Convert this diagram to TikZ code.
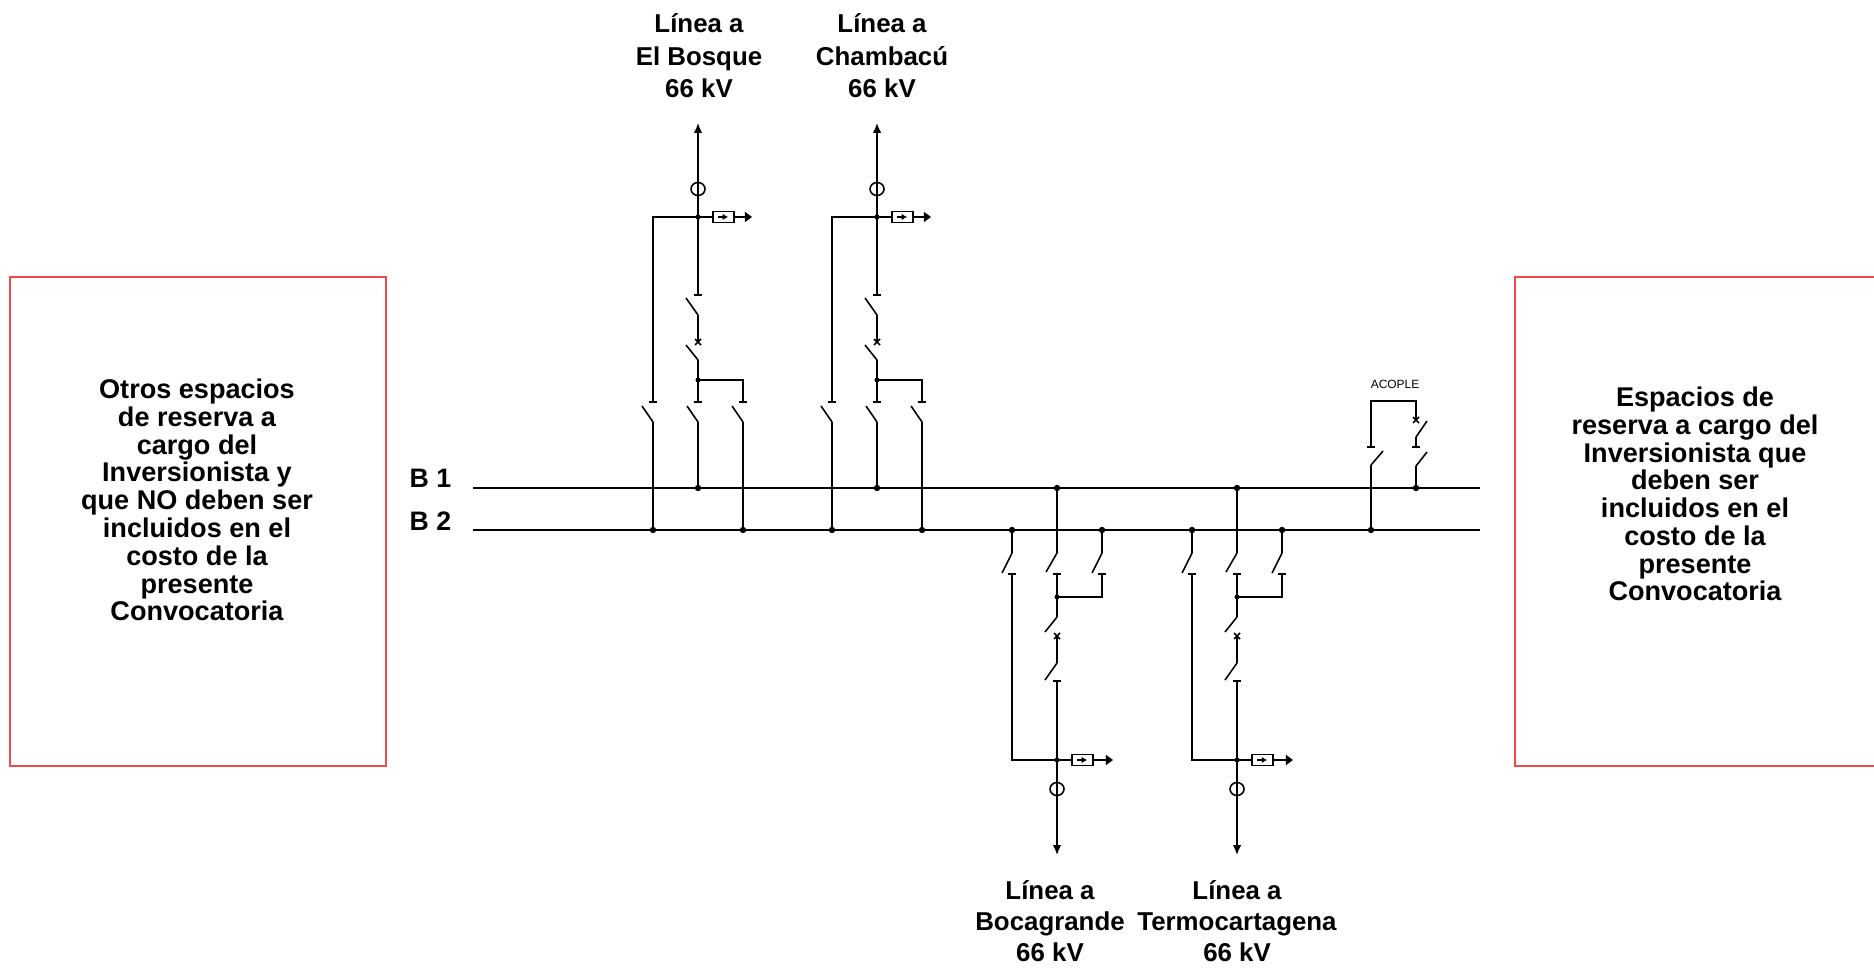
\documentclass[tikz,border=0pt]{standalone}
\usepackage{fontspec}
\setmainfont{Liberation Sans}
\usetikzlibrary{arrows.meta}

\definecolor{reservered}{RGB}{228,78,78}

\tikzset{
  wire/.style={line width=0.45pt},
  busbar/.style={line width=0.8pt},
  reserve/.style={draw=reservered, line width=0.5pt},
  boxtext/.style={align=center, font=\bfseries\fontsize{7.7}{7.9}\selectfont, inner sep=0pt},
  linelbl/.style={align=center, font=\bfseries\fontsize{7.35}{9.2}\selectfont, inner sep=0pt},
  lowlbl/.style={linelbl, font=\bfseries\fontsize{7.35}{8.8}\selectfont},
  buslbl/.style={font=\bfseries\fontsize{7.6}{9}\selectfont, inner sep=0pt},
  tinylbl/.style={font=\fontsize{3.4}{4}\selectfont, inner sep=0pt},
  linetip/.style={-{Latex[length=2.8pt,width=2.4pt]}},
  feedtip/.style={-{Triangle[length=2pt,width=2.8pt]}},
  vtarrow/.style={line width=0.8pt,-{Latex[length=1.5pt,width=1.8pt]}},
}

% fixed contact of a disconnector and the cross of a breaker
\newcommand{\fixedcontact}[1]{\draw[wire] (#1) ++(-4,0) -- ++(8,0);}
\newcommand{\breakmark}[1]{\draw[wire] (#1) ++(-3,-3) -- ++(6,6) ++(-6,0) -- ++(6,-6);}

\begin{document}
\begin{tikzpicture}[x=0.01cm,y=-0.01cm]
\useasboundingbox (0,0) rectangle (1874,968);

% Bus levels and bay spacing
\def\yba{488}
\def\ybb{530}
\def\bayoff{45}

% Reserve spaces
\draw[reserve] (10,277) rectangle (386,766);
\draw[reserve] (1515,277) rectangle (1880,766);
\node[boxtext] (resleft) at (197,500) {Otros espacios\\de reserva a\\cargo del\\Inversionista y\\que NO deben ser\\incluidos en el\\costo de la\\presente\\Convocatoria};
\node[boxtext] (resright) at (1695,494) {Espacios de\\reserva a cargo del\\Inversionista que\\deben ser\\incluidos en el\\costo de la\\presente\\Convocatoria};

% Bus bars
\coordinate (b1-w) at (473,\yba);
\coordinate (b1-e) at (1480,\yba);
\coordinate (b2-w) at (473,\ybb);
\coordinate (b2-e) at (1480,\ybb);
\draw[busbar] (b1-w) -- (b1-e);
\draw[busbar] (b2-w) -- (b2-e);
\node[buslbl, anchor=base west] (lb1) at (409,\yba) {B 1};
\node[buslbl, anchor=base west] (lb2) at (409,\ybb+1) {B 2};

% Bays going up
\foreach \i/\xm/\xl/\dest in {1/698/699/El Bosque, 2/877/882/Chambacú} {
    \coordinate (t\i-tip) at (\xm,123);
    \coordinate (t\i-ct) at (\xm,189);
    \coordinate (t\i-node) at (\xm,217);
    \coordinate (t\i-dsa) at (\xm,295);
    \coordinate (t\i-dsb) at (\xm,315);
    \coordinate (t\i-cba) at (\xm,342);
    \coordinate (t\i-cbb) at (\xm,360);
    \coordinate (t\i-split) at (\xm,380);
    \coordinate (t\i-sela) at (\xm,402);
    \coordinate (t\i-selb) at (\xm,422);
    \coordinate (t\i-bus) at (\xm,\yba);
    \coordinate (t\i-bya) at (\xm-\bayoff,217);
    \coordinate (t\i-byt) at (\xm-\bayoff,402);
    \coordinate (t\i-byh) at (\xm-\bayoff,422);
    \coordinate (t\i-byb) at (\xm-\bayoff,\ybb);
    \coordinate (t\i-sra) at (\xm+\bayoff,380);
    \coordinate (t\i-srt) at (\xm+\bayoff,402);
    \coordinate (t\i-srh) at (\xm+\bayoff,422);
    \coordinate (t\i-srb) at (\xm+\bayoff,\ybb);
    \coordinate (t\i-vt) at (\xm+15,217);
    \coordinate (t\i-vte) at (\xm+36,217);
    \coordinate (t\i-out) at (\xm+54,217);

    % line exit, CT and VT
    \draw[wire,linetip] (t\i-node) -- (t\i-tip);
    \draw[wire] (t\i-ct) ellipse (7 and 6.5);
    \draw[wire] (t\i-node) -- (t\i-vt);
    \draw[wire] (t\i-vt) ++(0,-5.5) rectangle ++(21,11);
    \draw[vtarrow] (\xm+20,217) -- (\xm+30,217);
    \draw[wire,feedtip] (t\i-vte) -- (t\i-out);

    % disconnector, breaker, B1 selector
    \draw[wire] (t\i-node) -- (t\i-dsa);
    \fixedcontact{t\i-dsa}
    \draw[wire] (t\i-dsb) -- ++(-12,-17);
    \draw[wire] (t\i-dsb) -- (t\i-cba);
    \breakmark{t\i-cba}
    \draw[wire] (t\i-cbb) -- ++(-12,-15);
    \draw[wire] (t\i-cbb) -- (t\i-split) -- (t\i-sela);
    \fixedcontact{t\i-sela}
    \draw[wire] (t\i-selb) -- ++(-11,-16);
    \draw[wire] (t\i-selb) -- (t\i-bus);

    % bypass to B2
    \draw[wire] (t\i-node) -- (t\i-bya) -- (t\i-byt);
    \fixedcontact{t\i-byt}
    \draw[wire] (t\i-byh) -- ++(-11,-16);
    \draw[wire] (t\i-byh) -- (t\i-byb);

    % B2 selector
    \draw[wire] (t\i-split) -- (t\i-sra) -- (t\i-srt);
    \fixedcontact{t\i-srt}
    \draw[wire] (t\i-srh) -- ++(-11,-16);
    \draw[wire] (t\i-srh) -- (t\i-srb);

    \fill (t\i-node) circle (2.5);
    \fill (t\i-split) circle (2.5);
    \fill (t\i-bus) circle (3.2);
    \fill (t\i-byb) circle (3.2);
    \fill (t\i-srb) circle (3.2);

    \node[linelbl] (t\i-lbl) at (\xl,56) {Línea a\\\dest\\66 kV};
}

% Bays going down
\foreach \i/\xm/\xl/\dest in {3/1057/1050/Bocagrande, 4/1237/1237/Termocartagena} {
    \coordinate (b\i-bus) at (\xm,\yba);
    \coordinate (b\i-selh) at (\xm,553);
    \coordinate (b\i-selt) at (\xm,574);
    \coordinate (b\i-split) at (\xm,597);
    \coordinate (b\i-cbh) at (\xm,617);
    \coordinate (b\i-cbx) at (\xm,636);
    \coordinate (b\i-dsh) at (\xm,663);
    \coordinate (b\i-dst) at (\xm,681);
    \coordinate (b\i-node) at (\xm,760);
    \coordinate (b\i-ct) at (\xm,789);
    \coordinate (b\i-tip) at (\xm,855);
    \coordinate (b\i-byb) at (\xm-\bayoff,\ybb);
    \coordinate (b\i-byh) at (\xm-\bayoff,553);
    \coordinate (b\i-byt) at (\xm-\bayoff,574);
    \coordinate (b\i-bya) at (\xm-\bayoff,760);
    \coordinate (b\i-srb) at (\xm+\bayoff,\ybb);
    \coordinate (b\i-srh) at (\xm+\bayoff,553);
    \coordinate (b\i-srt) at (\xm+\bayoff,574);
    \coordinate (b\i-sra) at (\xm+\bayoff,597);
    \coordinate (b\i-vt) at (\xm+15,760);
    \coordinate (b\i-vte) at (\xm+36,760);
    \coordinate (b\i-out) at (\xm+56,760);

    % B1 selector, breaker, disconnector
    \draw[wire] (b\i-bus) -- (b\i-selh);
    \draw[wire] (b\i-selh) -- ++(-11,19);
    \fixedcontact{b\i-selt}
    \draw[wire] (b\i-selt) -- (b\i-split) -- (b\i-cbh);
    \draw[wire] (b\i-cbh) -- ++(-12,15);
    \breakmark{b\i-cbx}
    \draw[wire] (b\i-cbx) -- (b\i-dsh);
    \draw[wire] (b\i-dsh) -- ++(-12,17);
    \fixedcontact{b\i-dst}
    \draw[wire] (b\i-dst) -- (b\i-node);

    % bypass from B2
    \draw[wire] (b\i-byb) -- (b\i-byh);
    \draw[wire] (b\i-byh) -- ++(-10,20);
    \fixedcontact{b\i-byt}
    \draw[wire] (b\i-byt) -- (b\i-bya) -- (b\i-node);

    % B2 selector
    \draw[wire] (b\i-srb) -- (b\i-srh);
    \draw[wire] (b\i-srh) -- ++(-10,20);
    \fixedcontact{b\i-srt}
    \draw[wire] (b\i-srt) -- (b\i-sra) -- (b\i-split);

    % line exit, CT and VT
    \draw[wire,linetip] (b\i-node) -- (b\i-tip);
    \draw[wire] (b\i-ct) ellipse (7 and 6.5);
    \draw[wire] (b\i-node) -- (b\i-vt);
    \draw[wire] (b\i-vt) ++(0,-5.5) rectangle ++(21,11);
    \draw[vtarrow] (\xm+20,760) -- (\xm+30,760);
    \draw[wire,feedtip] (b\i-vte) -- (b\i-out);

    \fill (b\i-bus) circle (3.2);
    \fill (b\i-byb) circle (3.2);
    \fill (b\i-srb) circle (3.2);
    \fill (b\i-split) circle (2.5);
    \fill (b\i-node) circle (2.5);

    \node[lowlbl] (b\i-lbl) at (\xl,921) {Línea a\\\dest\\66 kV};
}

% Bus coupler
\coordinate (acl-bus) at (1371,\ybb);
\coordinate (acl-h) at (1371,465);
\coordinate (acl-t) at (1371,447);
\coordinate (acl-top) at (1371,401);
\coordinate (acr-top) at (1416,401);
\coordinate (acr-cbx) at (1416,420);
\coordinate (acr-cbh) at (1416,437);
\coordinate (acr-t) at (1416,447);
\coordinate (acr-h) at (1416,466);
\coordinate (acr-bus) at (1416,\yba);
\draw[wire] (acl-bus) -- (acl-h);
\draw[wire] (acl-h) -- ++(12,-14);
\fixedcontact{acl-t}
\draw[wire] (acl-t) -- (acl-top) -- (acr-top) -- (acr-cbx);
\breakmark{acr-cbx}
\draw[wire] (acr-cbh) -- ++(11,-16);
\draw[wire] (acr-cbh) -- (acr-t);
\fixedcontact{acr-t}
\draw[wire] (acr-h) -- ++(11,-14);
\draw[wire] (acr-h) -- (acr-bus);
\fill (acl-bus) circle (3.2);
\fill (acr-bus) circle (3.2);
\node[tinylbl] (acople) at (1395,384) {ACOPLE};

\end{tikzpicture}
\end{document}
